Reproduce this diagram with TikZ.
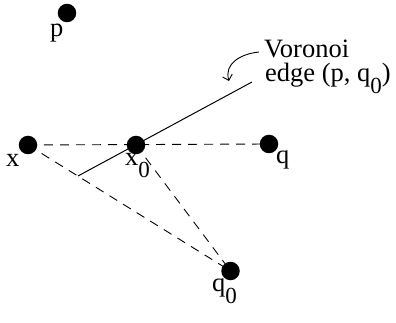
\documentclass[tikz,border=0pt]{standalone}
\usepackage{fontspec}
\setmainfont{Liberation Serif}
\usetikzlibrary{arrows.meta}
\newcommand{\subz}{\raisebox{-12pt}{\fontsize{23}{23}\selectfont 0}}
\begin{document}
\begin{tikzpicture}[x=1pt,y=-1pt,
  dot/.style={circle,fill=black,inner sep=0pt,minimum size=18.5pt},
  lbl/.style={anchor=base west,inner sep=0pt,font=\fontsize{26.5}{28}\selectfont},
  dashline/.style={line width=0.9pt,dash pattern=on 9pt off 7pt},
  edgeline/.style={line width=1pt},
  pointer/.style={line width=0.9pt,-{Straight Barb[length=5pt,width=10pt]}}]
\useasboundingbox (0,0) rectangle (396,323);
% dots
\coordinate (xc) at (28,145);
\coordinate (x0c) at (136,145);
\coordinate (qc) at (269,144);
\coordinate (q0c) at (230.5,271);
\coordinate (pc) at (67,13);
% dashed connectors
\draw[dashline] (xc) -- (qc);
\draw[dashline] (xc) -- (q0c);
\draw[dashline] (x0c) -- (q0c);
% Voronoi edge
\coordinate (e1) at (78,176);
\coordinate (e2) at (252,82);
\draw[edgeline] (e1) -- (e2);
% dots on top
\node[dot] (p) at (pc) {};
\node[dot] (x) at (xc) {};
\node[dot] (x0) at (x0c) {};
\node[dot] (q) at (qc) {};
\node[dot] (q0) at (q0c) {};
% labels
\node[lbl] (lp) at (50,37) {p};
\node[lbl] (lx) at (6,167) {x};
\node[lbl] (lx0) at (125,166) {x\subz};
\node[lbl] (lq) at (276,164) {q};
\node[lbl] (lq0) at (212,291) {q\subz};
\node[lbl] (lv1) at (264,57.5) {Voronoi};
\node[lbl] (lv2) at (265,81.5) {edge (p, q\subz)};
% pointer arrow
\coordinate (a1) at (259,52);
\coordinate (a2) at (229,81);
\draw[pointer] (a1) .. controls (240,54) and (224,64) .. (a2);
\end{tikzpicture}
\end{document}
